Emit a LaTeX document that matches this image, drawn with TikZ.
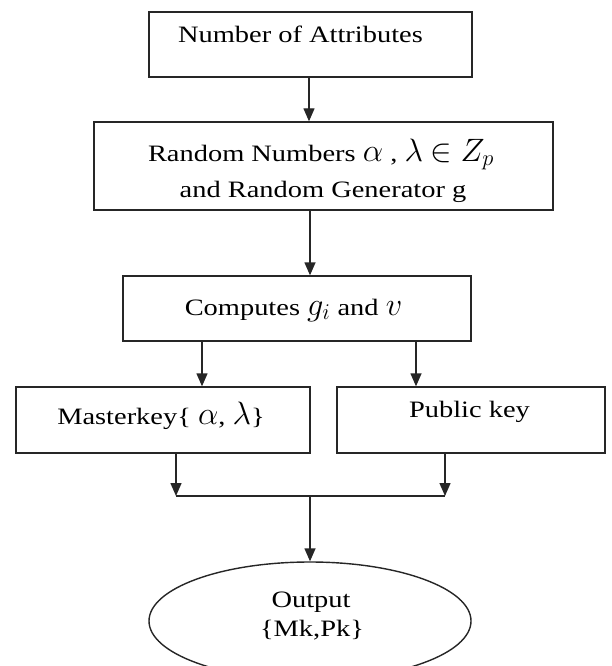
\documentclass[tikz,border=0pt]{standalone}
\usepackage{fontspec}
\usepackage{graphicx}
\setmainfont{Liberation Serif}[FakeStretch=1.21]
\usetikzlibrary{arrows.meta,shapes.geometric}
\newcommand\bigmth[1]{\scalebox{1.3}{$#1$}}
\begin{document}
\begin{tikzpicture}[x=1pt,y=-1pt,
  box/.style={draw=black!85, line width=1.4pt, inner sep=0pt},
  txt/.style={anchor=base, inner sep=0pt, font=\fontsize{23.5}{30}\selectfont},
  arr/.style={line width=1.4pt, draw=black!85, -{Triangle[length=13pt,width=11pt]}},
  ln/.style={line width=1.4pt, draw=black!85}]
\useasboundingbox (0,0) rectangle (611,666);
\fill[white] (0,0) rectangle (611,666);
% boxes
\node[box, minimum width=323pt, minimum height=65pt] (b1) at (310.5,44.5) {};
\node[box, minimum width=459pt, minimum height=88pt] (b2) at (323.5,166) {};
\node[box, minimum width=348pt, minimum height=65pt] (b3) at (297,308.5) {};
\node[box, minimum width=294pt, minimum height=66pt] (b4) at (163,420) {};
\node[box, minimum width=268pt, minimum height=66pt] (b5) at (471,420) {};
\node[box, ellipse, minimum width=322pt, minimum height=118pt] (out) at (310,621) {};
% texts
\node[txt] (t1) at (300.5,43) {Number of Attributes};
\node[txt] (t2a) at (321,161) {Random Numbers \bigmth{\alpha}\ , \bigmth{\lambda}\ \bigmth{\in Z_p}};
\node[txt] (t2b) at (323,197) {and Random Generator g};
\node[txt] (t3) at (293.5,315) {Computes \bigmth{g_i} and \bigmth{v}};
\node[txt] (t4) at (161,424) {Masterkey\{ \bigmth{\alpha}, \bigmth{\lambda}\}};
\node[txt] (t5) at (469.5,417) {Public key};
\node[txt] (t6a) at (311,607) {Output};
\node[txt] (t6b) at (312,636) {\{Mk,Pk\}};
% connector coordinates
\coordinate (x1) at (309,0);
\coordinate (x2) at (310,0);
\coordinate (xl) at (202,0);
\coordinate (xr) at (416,0);
\coordinate (ml) at (176,496);
\coordinate (mr) at (445,496);
\coordinate (mc) at (310,496);
% connectors
\draw[arr] (b1.south -| x1) -- (x1 |- b2.north);
\draw[arr] (b2.south -| x2) -- (x2 |- b3.north);
\draw[arr] (b3.south -| xl) -- (xl |- b4.north);
\draw[arr] (b3.south -| xr) -- (xr |- b5.north);
\draw[arr] (b4.south -| ml) -- (ml);
\draw[arr] (b5.south -| mr) -- (mr);
\draw[ln] (ml) -- (mr);
\draw[arr] (mc) -- (out.north);
\end{tikzpicture}
\end{document}
